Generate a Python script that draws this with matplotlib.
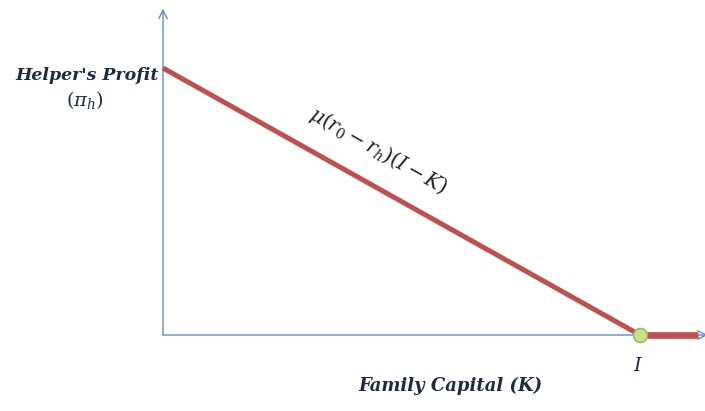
import matplotlib
matplotlib.use("Agg")
import matplotlib.pyplot as plt

# Data (normalized units: I = 1, intercept = 1)
K_points = [0.0, 1.0, 1.122]
profit_points = [1.0, 0.0, 0.0]
I_value = 1.0

fig = plt.figure(figsize=(7.05, 4.11), dpi=100)
ax = fig.add_axes([0, 0, 1, 1])
ax.set_xlim(-0.3417, 1.1363)
ax.set_ylim(-0.2846, 1.2547)
ax.axis("off")

axis_col = "#5b8fd0"
# axes with arrows
ax.annotate("", xy=(0, 1.222), xytext=(0, 0), annotation_clip=False,
            arrowprops=dict(arrowstyle="->,head_length=0.6,head_width=0.3", color=axis_col, lw=1.0, shrinkA=0, shrinkB=0))
ax.annotate("", xy=(1.142, 0), xytext=(0, 0), annotation_clip=False,
            arrowprops=dict(arrowstyle="->,head_length=0.6,head_width=0.3", color=axis_col, lw=1.0, shrinkA=0, shrinkB=0))

red = "#c0504d"
ax.plot(K_points[:2], profit_points[:2], color=red, lw=3.6, solid_capstyle="butt", zorder=3)
ax.plot(K_points[1:], profit_points[1:], color=red, lw=4.8, solid_capstyle="butt", zorder=3)
ax.plot([I_value], [0], "o", ms=10, mfc="#c6e291", mec="#9bbb59", mew=1.2, zorder=4)

plt.rcParams["mathtext.fontset"] = "dejavuserif"
tc = "#1f2a44"
ax.text(-0.008, 0.972, "Helper's Profit", ha="right", va="center", fontsize=12.5,
        family="DejaVu Serif", style="italic", weight="semibold", color=tc)
ax.text(-0.163, 0.88, r"$(\pi_h)$", ha="center", va="center", fontsize=14, color=tc)
ax.text(0.452, 0.69, r"$\mu(r_0 - r_h)(I - K)$", ha="center", va="center", fontsize=14.5,
        rotation=-29.5, rotation_mode="anchor", color="#222222")
ax.text(0.996, -0.115, r"$I$", ha="center", va="center", fontsize=14, color=tc)
ax.text(0.603, -0.19, "Family Capital (K)", ha="center", va="center", fontsize=13,
        family="DejaVu Serif", style="italic", weight="semibold", color=tc)

fig.savefig("out.png", dpi=100)
